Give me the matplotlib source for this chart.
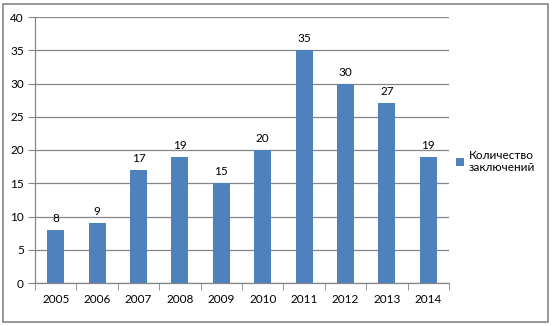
import matplotlib
matplotlib.use('Agg')
import matplotlib.pyplot as plt
import numpy as np
from matplotlib.patches import Rectangle

years = ['2005', '2006', '2007', '2008', '2009', '2010', '2011', '2012', '2013', '2014']
counts = [8, 9, 17, 19, 15, 20, 35, 30, 27, 19]
series_name = 'Количество\nзаключений'

plt.rcParams['font.family'] = ['Lato', 'DejaVu Sans']
plt.rcParams['font.size'] = 8.5

gray = '#868686'
blue = '#4F81BD'

fig = plt.figure(figsize=(5.53, 3.26), dpi=100)
ax = fig.add_axes([35 / 553, 1 - 283 / 326, (449 - 35) / 553, (283 - 17) / 326])

x = np.arange(len(years))
bars = ax.bar(x, counts, width=0.41, color=blue, zorder=3, label=series_name)
for xi, v in zip(x, counts):
    ax.text(xi, v + 0.9, str(v), ha='center', va='bottom', fontsize=8.5, color='black')

ax.set_xlim(-0.5, len(years) - 0.5)
ax.set_ylim(0, 40)
ax.set_yticks(range(0, 41, 5))
ax.set_xticks(x)
ax.set_xticklabels(years)
ax.set_xticks(np.arange(-0.5, len(years)), minor=True)
ax.tick_params(axis='x', which='major', length=0, pad=8)
ax.tick_params(axis='x', which='minor', length=5, color=gray, direction='out')
ax.tick_params(axis='y', length=5, color=gray, direction='out', pad=3)
ax.grid(axis='y', color=gray, linewidth=0.9, zorder=0)

for side in ['top', 'right']:
    ax.spines[side].set_visible(False)
for side in ['left', 'bottom']:
    ax.spines[side].set_color(gray)
    ax.spines[side].set_linewidth(0.9)

leg = fig.legend(handles=[bars], labels=[series_name], loc='upper left',
                 bbox_to_anchor=(445 / 553, 1 - 139 / 326), frameon=False,
                 handlelength=0.7, handleheight=0.7, handletextpad=0.45,
                 fontsize=8.5, labelspacing=0.3)

fig.patches.append(Rectangle((3 / 553, 4 / 326), 545 / 553, 318 / 326,
                             transform=fig.transFigure, fill=False,
                             edgecolor=gray, linewidth=1.2))

fig.savefig('out.png', dpi=100)
